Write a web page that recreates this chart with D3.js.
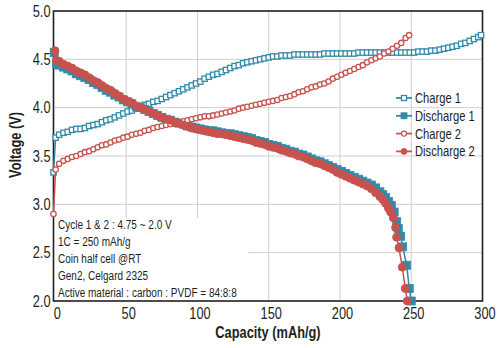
<!DOCTYPE html>
<html>
<head>
<meta charset="utf-8">
<script src="https://cdn.jsdelivr.net/npm/d3@7"></script>
<style>
  body { margin: 0; background: #fff; }
  svg { display: block; font-family: "Liberation Sans", Arial, sans-serif; }
</style>
</head>
<body>
<svg id="chart" width="500" height="348"></svg>
<script>
// [capacity mAh/g, voltage V]
const charge1 = [
  [-1,3.33],[0.5,3.69],[3,3.72],[6,3.74],[9,3.75],[12,3.77],[15,3.78],[18,3.78],[21,3.79],[24,3.81],[27,3.82],[30,3.83],
  [33,3.85],[36,3.87],[39,3.88],[42,3.90],[45,3.92],[48,3.94],[51,3.96],[54,3.97],[57,3.99],[60,4.01],[63,4.03],[66,4.04],
  [69,4.06],[72,4.07],[75,4.09],[78,4.11],[81,4.13],[84,4.15],[87,4.17],[90,4.19],[93,4.21],[96,4.23],[99,4.25],[102,4.27],
  [105,4.30],[108,4.32],[111,4.34],[114,4.35],[117,4.37],[120,4.39],[123,4.41],[126,4.43],[129,4.44],[132,4.46],[135,4.47],
  [138,4.48],[141,4.49],[144,4.50],[147,4.51],[150,4.52],[153,4.53],[156,4.53],[159,4.54],[162,4.54],[165,4.54],[168,4.55],
  [171,4.55],[174,4.55],[177,4.55],[180,4.55],[183,4.55],[186,4.55],[189,4.56],[192,4.56],[195,4.56],[198,4.56],[201,4.56],
  [204,4.56],[207,4.56],[210,4.56],[213,4.57],[216,4.57],[219,4.57],[222,4.57],[225,4.57],[228,4.57],[231,4.57],[234,4.57],
  [237,4.57],[240,4.57],[243,4.57],[246,4.57],[249,4.57],[252,4.57],[255,4.58],[258,4.58],[261,4.58],[264,4.59],[267,4.59],
  [270,4.60],[273,4.61],[276,4.62],[279,4.63],[282,4.64],[285,4.66],[288,4.67],[291,4.69],[294,4.71],[297,4.73],[299,4.75]
];

const discharge1 = [
  [-0.5,4.57],[1,4.45],[3,4.44],[6,4.42],[9,4.40],[12,4.38],[15,4.35],[18,4.33],[21,4.31],[24,4.29],[27,4.26],[30,4.24],
  [33,4.21],[36,4.18],[39,4.16],[42,4.13],[45,4.11],[48,4.08],[51,4.06],[54,4.04],[57,4.01],[60,4.00],[63,3.98],[66,3.96],
  [69,3.94],[72,3.92],[75,3.90],[78,3.88],[81,3.87],[84,3.85],[87,3.84],[90,3.83],[93,3.81],[96,3.80],[99,3.79],[102,3.78],
  [105,3.77],[108,3.76],[111,3.76],[114,3.75],[117,3.74],[120,3.73],[123,3.73],[126,3.72],[129,3.71],[132,3.70],[135,3.69],
  [138,3.68],[141,3.66],[144,3.65],[147,3.64],[150,3.62],[153,3.61],[156,3.60],[159,3.58],[162,3.57],[165,3.55],[168,3.54],
  [171,3.52],[174,3.51],[177,3.49],[180,3.47],[183,3.45],[186,3.44],[189,3.42],[192,3.40],[195,3.38],[198,3.36],[201,3.34],
  [204,3.32],[207,3.30],[210,3.28],[213,3.26],[216,3.24],[219,3.22],[222,3.20],[225,3.17],[228,3.13],[230,3.10],[232,3.07],
  [234,3.03],[236,2.99],[238,2.92],[239.8,2.82],[240.9,2.75],[242.6,2.67],[244,2.56],[246.8,2.37],[248.6,2.13],[250,2.00]
];

const charge2 = [
  [-1,2.90],[0.5,3.36],[3,3.42],[6,3.45],[9,3.47],[12,3.49],[15,3.50],[18,3.52],[21,3.54],[24,3.55],[27,3.57],[30,3.59],
  [33,3.61],[36,3.62],[39,3.64],[42,3.66],[45,3.67],[48,3.69],[51,3.70],[54,3.72],[57,3.73],[60,3.74],[63,3.76],[66,3.77],
  [69,3.79],[72,3.80],[75,3.81],[78,3.82],[81,3.83],[84,3.84],[87,3.85],[90,3.86],[93,3.87],[96,3.88],[99,3.89],[102,3.90],
  [105,3.91],[108,3.91],[111,3.92],[114,3.93],[117,3.94],[120,3.95],[123,3.96],[126,3.97],[129,3.99],[132,4.00],[135,4.01],
  [138,4.02],[141,4.03],[144,4.04],[147,4.05],[150,4.06],[153,4.07],[156,4.08],[159,4.10],[162,4.11],[165,4.12],[168,4.14],
  [171,4.16],[174,4.17],[177,4.19],[180,4.21],[183,4.22],[186,4.24],[189,4.25],[192,4.27],[195,4.30],[198,4.32],[201,4.34],
  [204,4.36],[207,4.38],[210,4.40],[213,4.42],[216,4.44],[219,4.47],[222,4.49],[225,4.51],[228,4.53],[231,4.56],[234,4.58],
  [237,4.61],[240,4.64],[243,4.67],[246,4.72],[248.5,4.75]
];

const discharge2 = [
  [0,4.59],[1,4.49],[3,4.48],[6,4.45],[9,4.43],[12,4.41],[15,4.38],[18,4.36],[21,4.34],[24,4.31],[27,4.28],[30,4.26],
  [33,4.23],[36,4.20],[39,4.18],[42,4.15],[45,4.12],[48,4.09],[51,4.07],[54,4.05],[57,4.02],[60,4.00],[63,3.98],[66,3.96],
  [69,3.94],[72,3.92],[75,3.90],[78,3.88],[81,3.87],[84,3.85],[87,3.84],[90,3.82],[93,3.81],[96,3.79],[99,3.78],[102,3.77],
  [105,3.76],[108,3.75],[111,3.74],[114,3.73],[117,3.73],[120,3.72],[123,3.71],[126,3.70],[129,3.69],[132,3.68],[135,3.67],
  [138,3.66],[141,3.64],[144,3.63],[147,3.62],[150,3.60],[153,3.59],[156,3.58],[159,3.56],[162,3.55],[165,3.53],[168,3.52],
  [171,3.50],[174,3.49],[177,3.47],[180,3.45],[183,3.43],[186,3.42],[189,3.40],[192,3.38],[195,3.36],[198,3.33],[201,3.31],
  [204,3.29],[207,3.27],[210,3.25],[213,3.23],[216,3.21],[219,3.19],[222,3.16],[225,3.12],[228,3.08],[230,3.05],[232,3.01],
  [234,2.96],[235.5,2.92],[237.4,2.86],[239,2.76],[239.7,2.66],[241.4,2.55],[243.7,2.35],[245.8,2.13],[247.2,2.00]
];

const seriesNames = ["Charge 1", "Discharge 1", "Charge 2", "Discharge 2"];
const xTicks = [0, 50, 100, 150, 200, 250, 300];
const yTicks = [2.0, 2.5, 3.0, 3.5, 4.0, 4.5, 5.0];
const notes = [
  "Cycle 1 & 2 : 4.75 ~ 2.0 V",
  "1C = 250 mAh/g",
  "Coin half cell @RT",
  "Gen2, Celgard 2325",
  "Active material : carbon : PVDF = 84:8:8"
];

const TEAL = "#338aa8";
const RED = "#c8524e";
const INK = "#231f20";
const SQUEEZE = 0.8; // the original type is a condensed face

const series = [
  { name: seriesNames[0], data: charge1, color: TEAL, shape: "square", open: true },
  { name: seriesNames[1], data: discharge1, color: TEAL, shape: "square", open: false },
  { name: seriesNames[2], data: charge2, color: RED, shape: "circle", open: true },
  { name: seriesNames[3], data: discharge2, color: RED, shape: "circle", open: false }
];

const plot = { left: 53.5, right: 482.5, top: 11, bottom: 301 };

const svg = d3.select("#chart");

const x = d3.scaleLinear().domain([-1, 300]).range([plot.left, plot.right]);
const y = d3.scaleLinear().domain([2, 5]).range([plot.bottom, plot.top]);

// grid
svg.append("g")
  .selectAll("line")
  .data(xTicks.slice(1, -1))
  .join("line")
  .attr("x1", d => x(d)).attr("x2", d => x(d))
  .attr("y1", plot.top).attr("y2", plot.bottom)
  .attr("stroke", "#cfcfcf").attr("stroke-width", 1);

svg.append("g")
  .selectAll("line")
  .data(yTicks.slice(1, -1))
  .join("line")
  .attr("x1", plot.left).attr("x2", plot.right)
  .attr("y1", d => y(d)).attr("y2", d => y(d))
  .attr("stroke", "#cfcfcf").attr("stroke-width", 1);

// white panel behind the notes
svg.append("rect")
  .attr("x", plot.left).attr("y", 218)
  .attr("width", 195).attr("height", plot.bottom - 218)
  .attr("fill", "#fff");

// frame
svg.append("rect")
  .attr("x", plot.left).attr("y", plot.top)
  .attr("width", plot.right - plot.left).attr("height", plot.bottom - plot.top)
  .attr("fill", "none").attr("stroke", INK).attr("stroke-width", 1.6);

// axes (labels only)
const xAxis = svg.append("g")
  .attr("transform", "translate(0," + plot.bottom + ")")
  .call(d3.axisBottom(x).tickValues(xTicks).tickSize(0).tickPadding(7).tickFormat(d3.format("d")));
xAxis.select(".domain").remove();
xAxis.selectAll("text")
  .attr("class", "narrow")
  .attr("dx", 2)
  .style("font-family", "inherit").style("font-size", "16px").attr("fill", INK);

const yAxis = svg.append("g")
  .attr("transform", "translate(" + (plot.left - 3) + ",0)")
  .call(d3.axisLeft(y).tickValues(yTicks).tickSize(0).tickPadding(0).tickFormat(d3.format(".1f")));
yAxis.select(".domain").remove();
yAxis.selectAll("text")
  .attr("class", "narrow")
  .style("font-family", "inherit").style("font-size", "16px").attr("fill", INK);

// axis titles
svg.append("text")
  .attr("class", "narrow")
  .attr("x", 268).attr("y", 338)
  .attr("text-anchor", "middle")
  .style("font-size", "16px").style("font-weight", "bold")
  .attr("fill", INK)
  .text("Capacity (mAh/g)");

svg.append("text")
  .attr("class", "narrow")
  .attr("transform", "translate(21,145) rotate(-90)")
  .attr("text-anchor", "middle")
  .style("font-size", "16px").style("font-weight", "bold")
  .attr("fill", INK)
  .text("Voltage (V)");

// series
const line = d3.line().x(d => x(d[0])).y(d => y(d[1]));

function drawMarker(sel, s, size) {
  if (s.shape === "square") {
    sel.append("rect")
      .attr("x", -size / 2).attr("y", -size / 2)
      .attr("width", size).attr("height", size)
      .attr("fill", s.open ? "#fff" : s.color)
      .attr("stroke", s.color).attr("stroke-width", s.open ? 1.3 : 0.8);
  } else {
    sel.append("circle")
      .attr("r", size / 2)
      .attr("fill", s.open ? "#fff" : s.color)
      .attr("stroke", s.color).attr("stroke-width", s.open ? 1.3 : 0.8);
  }
}

series.forEach(s => {
  const g = svg.append("g");
  g.append("path")
    .datum(s.data)
    .attr("d", line)
    .attr("fill", "none")
    .attr("stroke", s.color)
    .attr("stroke-width", 1.5);
  g.selectAll("g.pt")
    .data(s.data)
    .join("g")
    .attr("class", "pt")
    .attr("transform", d => "translate(" + x(d[0]) + "," + y(d[1]) + ")")
    .each(function () { drawMarker(d3.select(this), s, s.open ? 5.3 : 8); });
});

// legend
const legend = svg.append("g").attr("transform", "translate(396,98)");
const rows = legend.selectAll("g")
  .data(series)
  .join("g")
  .attr("transform", (d, i) => "translate(0," + i * 17.8 + ")");
rows.append("line")
  .attr("x1", 0).attr("x2", 16)
  .attr("stroke", d => d.color).attr("stroke-width", 1.8);
rows.each(function (s) {
  const m = d3.select(this).append("g").attr("transform", "translate(8,0)");
  drawMarker(m, s, s.open ? 5 : 6);
});
rows.append("text")
  .attr("class", "narrow")
  .attr("x", 19).attr("dy", "0.35em")
  .style("font-size", "14px")
  .attr("fill", INK)
  .text(d => d.name);

// notes
svg.append("g")
  .selectAll("text")
  .data(notes)
  .join("text")
  .attr("class", "narrow")
  .attr("x", 58)
  .attr("y", (d, i) => 225 + i * 16.8)
  .attr("dy", "0.35em")
  .style("font-size", "12.5px")
  .attr("fill", INK)
  .text(d => d);

// squeeze text horizontally to mimic the condensed face
svg.selectAll("text.narrow").each(function () {
  const w = this.getComputedTextLength();
  d3.select(this)
    .attr("textLength", w * SQUEEZE)
    .attr("lengthAdjust", "spacingAndGlyphs");
});
</script>
</body>
</html>
